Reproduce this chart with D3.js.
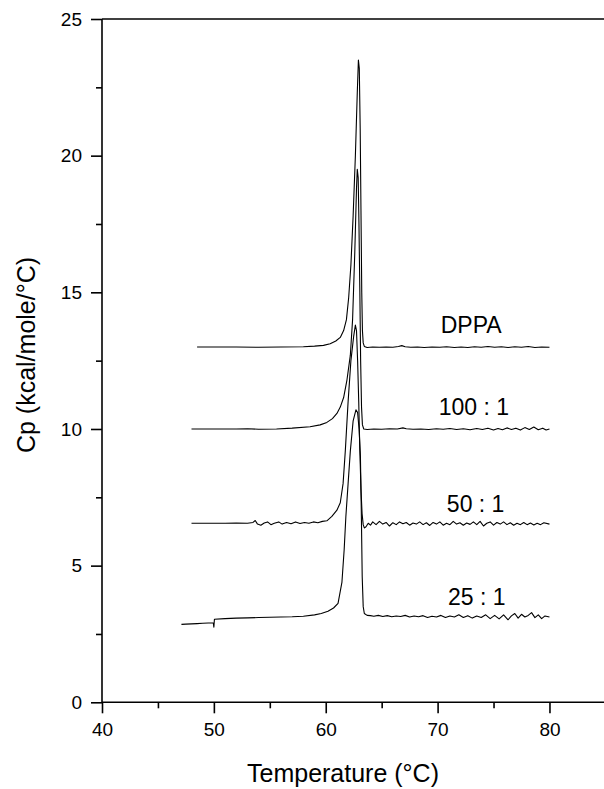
<!DOCTYPE html>
<html><head><meta charset="utf-8">
<script src="https://cdn.jsdelivr.net/npm/d3@7"></script>
<style>
html,body{margin:0;padding:0;background:#fff;}
svg{display:block;}
text{font-family:"Liberation Sans",Arial,sans-serif;fill:#000;}
</style></head>
<body><svg id="c" width="604" height="789"></svg>
<script>
// ---- data ----
const xMajorTicks = [40, 50, 60, 70, 80];
const xMinorTicks = [45, 55, 65, 75];
const yMajorTicks = [0, 5, 10, 15, 20, 25];
const yMinorTicks = [2.5, 7.5, 12.5, 17.5, 22.5];
const seriesNames = ["DPPA", "100 : 1", "50 : 1", "25 : 1"];
const labelPos = [[73.0, 13.51], [73.25, 10.51], [73.4, 6.97], [73.5, 3.56]];

const dppa = [[48.5,13.0],[50,13.0],[52,13.0],[54,12.99],[56,13.0],[58,13.01],[59,13.03],[59.8,13.06],[60.4,13.12],[60.9,13.22],[61.3,13.35],[61.6,13.6],[61.85,14.0],[62.05,14.8],[62.25,16.0],[62.45,17.8],[62.65,20.0],[62.82,22.3],[62.92,23.5],[63.0,23.2],[63.08,21.0],[63.15,18.0],[63.22,15.0],[63.28,13.6],[63.35,13.15],[63.45,13.02],[63.7,12.98],[64.2,13.0],[64.8,12.99],[65.4,13.0],[66.0,12.99],[66.5,13.02],[66.8,13.05],[67.1,13.01],[67.6,12.99],[68.2,13.0],[68.8,12.98],[69.5,13.0],[70.2,12.99],[70.8,13.01],[71.5,12.98],[72.1,13.0],[72.7,12.98],[73.3,13.01],[73.9,12.99],[74.5,13.02],[75.1,12.99],[75.7,13.01],[76.3,12.98],[76.9,13.01],[77.5,12.99],[78.1,13.02],[78.7,12.98],[79.3,13.0],[80,12.99]];

const r100 = [[48,10.0],[50,10.0],[52,10.0],[53,10.01],[54,9.99],[55.6,10.0],[57,10.03],[58.6,10.08],[59.5,10.15],[60.1,10.24],[60.6,10.38],[61.0,10.57],[61.3,10.8],[61.6,11.15],[61.9,11.8],[62.2,12.7],[62.4,14.0],[62.6,16.5],[62.75,18.8],[62.82,19.5],[62.9,19.2],[62.97,17.5],[63.05,15.0],[63.12,12.5],[63.2,10.8],[63.28,10.15],[63.4,10.0],[63.7,9.98],[64.3,10.0],[65,9.99],[65.7,10.01],[66.4,10.0],[66.9,10.04],[67.2,10.01],[67.8,9.99],[68.5,10.0],[69.2,9.98],[69.9,10.01],[70.5,9.99],[71.1,10.02],[71.7,9.98],[72.3,10.01],[72.9,9.97],[73.5,10.02],[74.0,9.98],[74.5,10.03],[75.0,9.96],[75.4,10.02],[75.8,9.97],[76.2,10.04],[76.6,9.98],[77.0,10.03],[77.4,9.96],[77.8,10.05],[78.2,9.98],[78.6,10.07],[79.0,9.97],[79.4,10.03],[79.7,9.96],[80,10.0]];

const r50 = [[48,6.55],[49,6.55],[50,6.55],[51,6.55],[52,6.56],[53,6.55],[53.5,6.58],[53.7,6.65],[53.9,6.52],[54.2,6.48],[54.5,6.56],[54.8,6.6],[55.1,6.5],[55.4,6.55],[55.8,6.6],[56.1,6.52],[56.5,6.58],[56.9,6.53],[57.3,6.6],[57.7,6.54],[58.1,6.58],[58.5,6.55],[58.9,6.6],[59.3,6.57],[59.7,6.62],[60.1,6.64],[60.55,6.8],[61.0,7.03],[61.3,7.3],[61.55,8.0],[61.75,9.2],[62.0,11.0],[62.25,12.5],[62.5,13.4],[62.65,13.8],[62.75,13.6],[62.85,12.5],[62.95,11.0],[63.05,9.2],[63.15,7.8],[63.25,6.9],[63.35,6.5],[63.45,6.38],[63.6,6.42],[63.8,6.55],[64.0,6.48],[64.2,6.6],[64.5,6.5],[64.8,6.62],[65.1,6.52],[65.4,6.58],[65.7,6.45],[66.0,6.57],[66.3,6.5],[66.6,6.6],[66.9,6.53],[67.2,6.58],[67.5,6.48],[67.8,6.56],[68.1,6.52],[68.4,6.6],[68.7,6.5],[69,6.57],[69.3,6.47],[69.6,6.58],[69.9,6.52],[70.2,6.6],[70.5,6.48],[70.8,6.55],[71.1,6.5],[71.4,6.62],[71.7,6.52],[72.0,6.57],[72.3,6.48],[72.6,6.56],[72.9,6.51],[73.2,6.6],[73.5,6.5],[73.8,6.62],[74.1,6.45],[74.4,6.55],[74.7,6.6],[75.0,6.48],[75.3,6.58],[75.6,6.52],[75.9,6.6],[76.2,6.5],[76.5,6.57],[76.8,6.48],[77.1,6.55],[77.4,6.5],[77.7,6.58],[78.0,6.5],[78.3,6.56],[78.6,6.49],[78.9,6.55],[79.2,6.5],[79.5,6.57],[80,6.52]];

const r25 = [[47.1,2.85],[47.5,2.86],[48,2.87],[48.5,2.88],[49,2.89],[49.5,2.9],[49.95,2.9],[50.0,2.75],[50.05,3.04],[51,3.06],[52,3.08],[53,3.09],[54,3.1],[55,3.11],[56,3.12],[57,3.13],[58,3.15],[59,3.2],[59.6,3.25],[60.2,3.33],[60.7,3.45],[61.1,3.62],[61.45,4.4],[61.65,5.6],[61.8,6.8],[62.0,8.0],[62.2,9.2],[62.45,10.3],[62.7,10.7],[62.85,10.6],[62.98,10.0],[63.1,9.0],[63.18,7.0],[63.26,4.6],[63.35,3.5],[63.45,3.25],[63.7,3.18],[64,3.17],[64.3,3.15],[64.7,3.18],[65.1,3.14],[65.5,3.17],[65.9,3.13],[66.3,3.16],[66.7,3.14],[67.1,3.18],[67.5,3.12],[67.9,3.16],[68.3,3.13],[68.7,3.17],[69.1,3.1],[69.5,3.15],[69.9,3.12],[70.3,3.18],[70.7,3.1],[71.1,3.16],[71.5,3.12],[71.9,3.2],[72.3,3.1],[72.7,3.17],[73.1,3.08],[73.5,3.16],[73.9,3.1],[74.3,3.2],[74.7,3.06],[75.1,3.18],[75.5,3.05],[75.9,3.2],[76.3,3.02],[76.6,3.16],[76.9,3.25],[77.2,3.08],[77.5,3.22],[77.8,3.12],[78.1,3.18],[78.4,3.28],[78.7,3.1],[79.0,3.2],[79.3,3.06],[79.6,3.16],[80,3.12]];

const seriesData = [dppa, r100, r50, r25];

// ---- drawing ----
const svg = d3.select("#c");
const x = d3.scaleLinear().domain([40, 85]).range([102, 605.4]);
const y = d3.scaleLinear().domain([0, 25]).range([702.3, 19]);

// curves
const line = d3.line().x(d => x(d[0])).y(d => y(d[1]));
svg.append("g").selectAll("path").data(seriesData).join("path")
  .attr("d", line).attr("fill", "none").attr("stroke", "#000")
  .attr("stroke-width", 1.1).attr("stroke-linejoin", "round");

// x axis
svg.append("g").attr("transform", `translate(0,${y(0)})`)
  .call(d3.axisBottom(x).tickValues(xMajorTicks).tickSize(11).tickPadding(9).tickFormat(d3.format("d")));
svg.append("g").attr("transform", `translate(0,${y(0)})`)
  .call(d3.axisBottom(x).tickValues(xMinorTicks).tickSize(6).tickFormat(""));
// y axis
svg.append("g").attr("transform", `translate(${x(40)},0)`)
  .call(d3.axisLeft(y).tickValues(yMajorTicks).tickSize(11).tickPadding(9).tickFormat(d3.format("d")));
svg.append("g").attr("transform", `translate(${x(40)},0)`)
  .call(d3.axisLeft(y).tickValues(yMinorTicks).tickSize(6).tickFormat(""));

svg.selectAll(".domain").remove();
svg.selectAll(".tick line").attr("stroke", "#000").attr("stroke-width", 1.6);
svg.selectAll(".tick text").attr("font-size", 19).attr("font-family", '"Liberation Sans",Arial,sans-serif');

// axis lines + top border
svg.append("line").attr("x1", x(40)).attr("x2", 604).attr("y1", y(0)).attr("y2", y(0)).attr("stroke", "#000").attr("stroke-width", 1.6);
svg.append("line").attr("x1", x(40)).attr("x2", x(40)).attr("y1", y(25)).attr("y2", y(0)).attr("stroke", "#000").attr("stroke-width", 1.6);
svg.append("line").attr("x1", x(40)).attr("x2", 604).attr("y1", y(25)).attr("y2", y(25)).attr("stroke", "#000").attr("stroke-width", 1.6);

// series labels
svg.append("g").selectAll("text").data(seriesNames).join("text")
  .attr("x", (d, i) => x(labelPos[i][0])).attr("y", (d, i) => y(labelPos[i][1]))
  .attr("text-anchor", "middle").attr("font-size", 23).text(d => d);

// axis titles
svg.append("text").attr("x", 343).attr("y", 782).attr("text-anchor", "middle")
  .attr("font-size", 25).text("Temperature (°C)");
svg.append("text").attr("transform", "translate(35,355) rotate(-90)").attr("text-anchor", "middle")
  .attr("font-size", 25).text("Cp (kcal/mole/°C)");
</script></body></html>
